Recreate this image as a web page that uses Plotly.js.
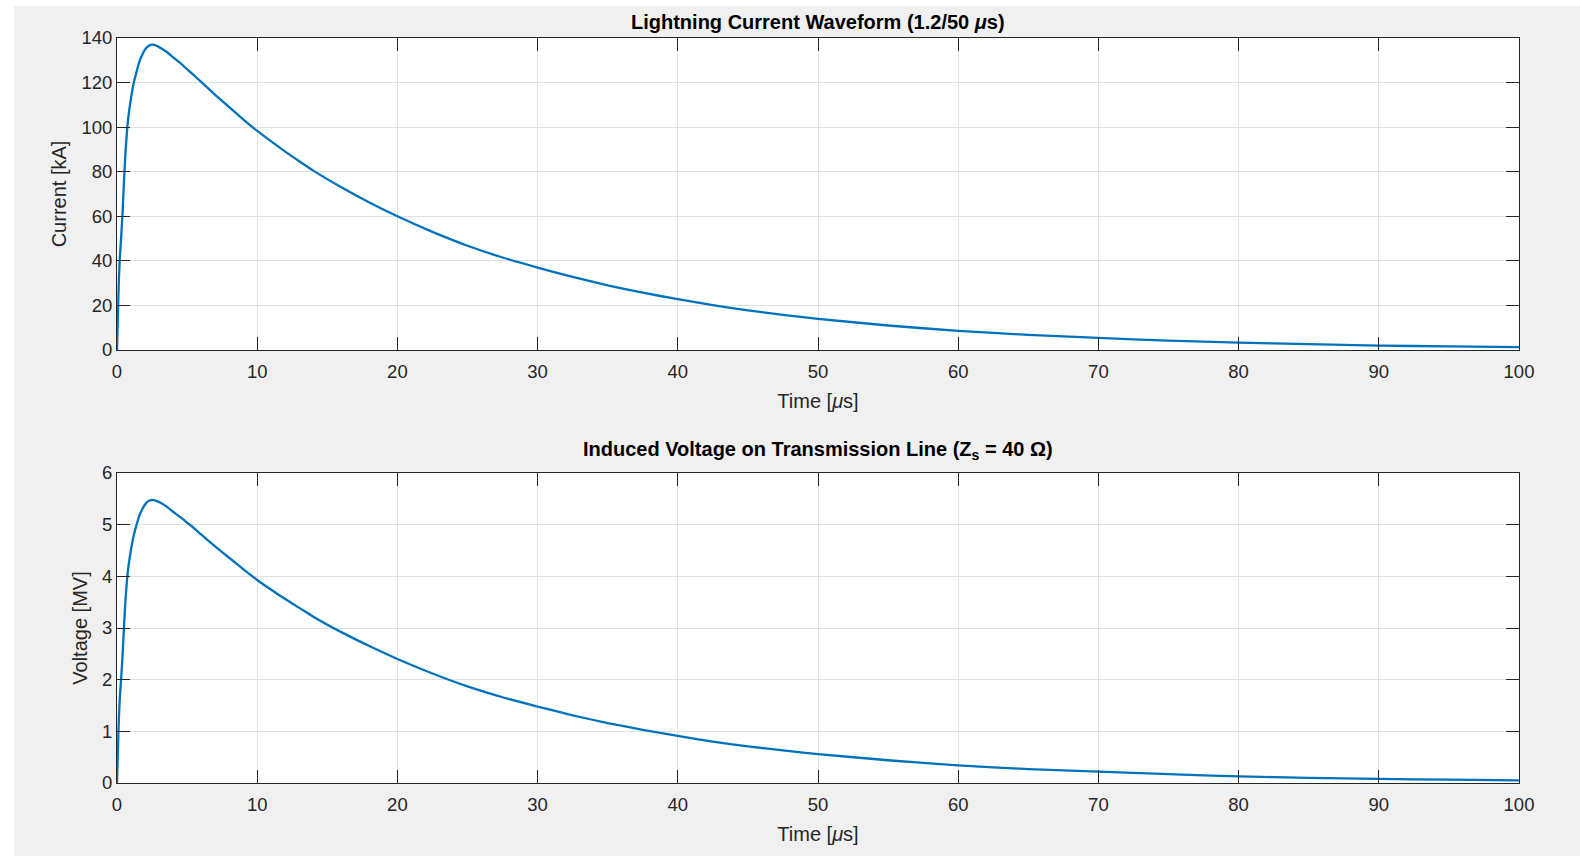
<!DOCTYPE html>
<html>
<head>
<meta charset="utf-8">
<script src="https://cdn.plot.ly/plotly-3.0.1.min.js"></script>
<style>
html,body{margin:0;padding:0;background:#ffffff;}
#chart{position:absolute;left:14px;top:6px;width:1566px;height:850px;}
</style>
</head>
<body>
<div id="chart"></div>
<script>
// Time samples [µs]
var timeUs = [0,0.05,0.1,0.15,0.2,0.3,0.4,0.5,0.6,0.7,0.8,1.0,1.2,1.4,1.6,1.8,2.0,2.2,2.5,2.8,3.2,3.6,4,4.5,5,5.5,6,7,8,9,10,11,12,13,14,16,18,20,22.5,25,27.5,30,32.5,35,37.5,40,42.5,45,47.5,50,55,60,65,70,75,80,85,90,95,100];
// Lightning current [kA]
var currentKA = [0,12,24,34,41,51,62,76,88,97,104,113,120,125,129.5,132.5,134.8,136.2,137,136.6,135.2,133.5,131.3,128.8,126,123.2,120.3,114.5,109,103.5,98.3,93.6,89,84.7,80.5,73,66.2,60,53,46.8,41.5,37,32.8,29,25.7,22.8,20.1,17.8,15.8,14,11,8.6,6.8,5.4,4.2,3.3,2.6,2.0,1.6,1.3];
// Induced voltage [MV]
var voltageMV = [0,0.48,0.96,1.36,1.64,2.04,2.48,3.04,3.52,3.88,4.16,4.52,4.8,5.0,5.18,5.3,5.39,5.45,5.48,5.46,5.41,5.34,5.25,5.15,5.04,4.93,4.81,4.58,4.36,4.14,3.93,3.74,3.56,3.39,3.22,2.92,2.65,2.4,2.12,1.87,1.66,1.48,1.31,1.16,1.03,0.91,0.80,0.71,0.63,0.56,0.44,0.34,0.27,0.22,0.17,0.13,0.10,0.08,0.064,0.052];

var xTickVals = [0,10,20,30,40,50,60,70,80,90,100];
var yTopTicks = [0,20,40,60,80,100,120,140];
var yBotTicks = [0,1,2,3,4,5,6];

var lineStyle = {color:'#0072BD', width:2.3, shape:'spline', smoothing:0.5};
var FONT = 'Liberation Sans, Arial, Helvetica, sans-serif';
var TXT = '#262626';

var traces = [
  {x: timeUs, y: currentKA, type:'scatter', mode:'lines', line: lineStyle, xaxis:'x', yaxis:'y', hoverinfo:'x+y'},
  {x: timeUs, y: voltageMV, type:'scatter', mode:'lines', line: lineStyle, xaxis:'x2', yaxis:'y2', hoverinfo:'x+y'}
];

function axisBase(){
  return {
    showline:true, linecolor:TXT, linewidth:1, mirror:'ticks',
    ticks:'inside', ticklen:13, tickwidth:1, tickcolor:TXT,
    showgrid:true, gridcolor:'#e1e1e1', gridwidth:1, zeroline:false,
    tickfont:{family:FONT, size:18.5, color:TXT}, fixedrange:true
  };
}
var xa = axisBase(); xa.range=[0,100]; xa.tickvals=xTickVals; xa.anchor='y'; xa.domain=[0,1]; xa.ticklabelstandoff=5;
xa.title={text:'Time [<i>μ</i>s]', font:{family:FONT, size:20, color:TXT}, standoff:12};
var ya = axisBase(); ya.range=[0,140]; ya.tickvals=yTopTicks; ya.anchor='x'; ya.domain=[0.5812,1];
ya.title={text:'Current [kA]', font:{family:FONT, size:20, color:TXT}, standoff:9};
var xb = axisBase(); xb.range=[0,100]; xb.tickvals=xTickVals; xb.anchor='y2'; xb.domain=[0,1]; xb.ticklabelstandoff=5;
xb.title={text:'Time [<i>μ</i>s]', font:{family:FONT, size:20, color:TXT}, standoff:12};
var yb = axisBase(); yb.range=[0,6]; yb.tickvals=yBotTicks; yb.anchor='x2'; yb.domain=[0,0.4161];
yb.title={text:'Voltage [MV]', font:{family:FONT, size:20, color:TXT}, standoff:9};

var layout = {
  width:1566, height:850,
  margin:{l:103, r:61, t:32, b:73},
  paper_bgcolor:'#f0f0f0', plot_bgcolor:'#ffffff',
  showlegend:false,
  xaxis:xa, yaxis:ya, xaxis2:xb, yaxis2:yb,
  annotations:[
    {text:'<b>Lightning Current Waveform (1.2/50 <i>μ</i>s)</b>', xref:'paper', yref:'paper', x:0.5, y:1, yshift:3,
     xanchor:'center', yanchor:'bottom', showarrow:false, font:{family:FONT, size:20, color:'#000000'}},
    {text:'<b>Induced Voltage on Transmission Line (Z<sub>s</sub> = 40 Ω)</b>', xref:'paper', yref:'paper', x:0.5, y:0.4161, yshift:8,
     xanchor:'center', yanchor:'bottom', showarrow:false, font:{family:FONT, size:20, color:'#000000'}}
  ]
};

Plotly.newPlot('chart', traces, layout, {displayModeBar:false});
</script>
</body>
</html>
